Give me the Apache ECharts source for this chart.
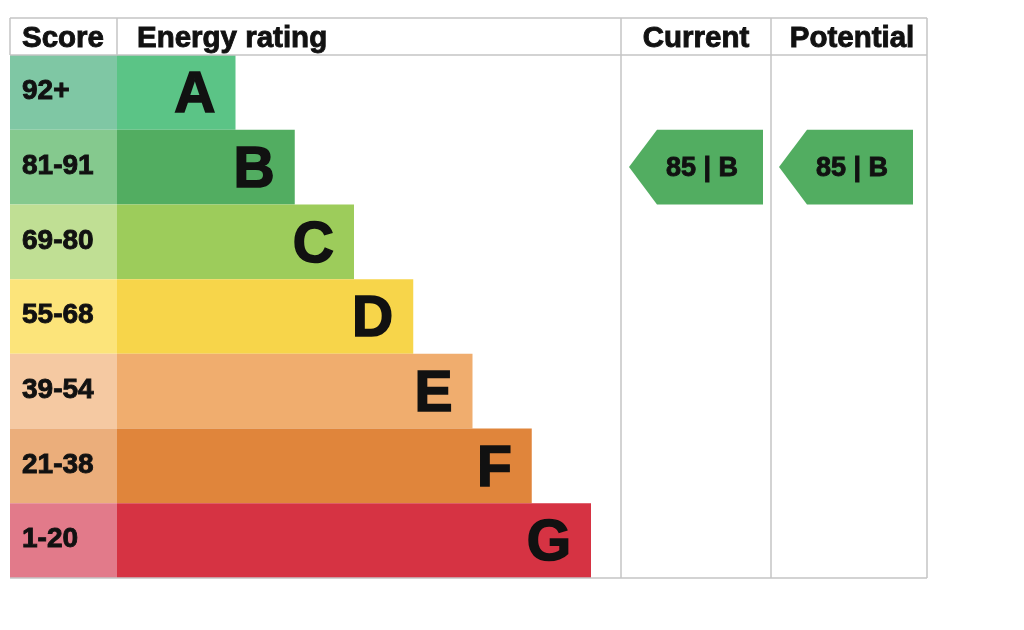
<!DOCTYPE html>
<html>
<head>
<meta charset="utf-8">
<script src="https://cdn.jsdelivr.net/npm/echarts@6/dist/echarts.min.js"></script>
<style>
html,body{margin:0;padding:0;background:#fff;}
#chart{width:1024px;height:630px;}
</style>
</head>
<body>
<div id="chart"></div>
<script>
// ---- data ----
const ratings = ['A', 'B', 'C', 'D', 'E', 'F', 'G'];
const scoreBands = ['92+', '81-91', '69-80', '55-68', '39-54', '21-38', '1-20'];
const bandMins = [92, 81, 69, 55, 39, 21, 1];
const barLengths = [2, 3, 4, 5, 6, 7, 8];
const barColors = ['#5bc486', '#52ad61', '#9dcc5b', '#f7d54a', '#f0ad6e', '#e0853b', '#d63343'];
const scoreColors = ['#7fc7a4', '#85c98e', '#c0df94', '#fce47a', '#f5c9a2', '#ebae7b', '#e27a8a'];
const headers = ['Score', 'Energy rating', 'Current', 'Potential'];
const currentScore = [85];
const potentialScore = [85];

function bandIndex(s) {
  for (let i = 0; i < bandMins.length; i++) if (s >= bandMins[i]) return i;
  return bandMins.length - 1;
}

const FONT = '"Liberation Sans", Arial, Helvetica, sans-serif';
const INK = '#111';
const chart = echarts.init(document.getElementById('chart'), null, {renderer: 'canvas'});

const T = 18, HB = 55, B = 578, L = 10, R = 927;
const cols = [10, 117, 621, 771, 927];
const gridTop = HB, gridH = B - HB;

function catAxis(i) {
  return {type: 'category', gridIndex: i, data: ratings, inverse: true, show: false};
}

function arrowRender(params, api) {
  const row = api.value(1);
  const cy = api.coord([0, row])[1];
  const h = api.size([0, 1])[1];
  const cs = params.coordSys;
  const tip = cs.x + 8;
  const notch = 28, w = 134;
  const top = cy - h / 2, bot = cy + h / 2;
  const s = api.value(2);
  return {
    type: 'group',
    children: [
      {type: 'polygon', shape: {points: [[tip, cy], [tip + notch, top], [tip + w, top], [tip + w, bot], [tip + notch, bot]]},
        style: {fill: barColors[row]}},
      {type: 'text', x: tip + 73, y: cy + 1, style: {text: s + ' | ' + ratings[row], fill: INK, font: 'bold 27px ' + FONT,
        align: 'center', verticalAlign: 'middle', stroke: INK, lineWidth: 0.9}}
    ]
  };
}

const lineStyle = {stroke: '#c4c4c4', lineWidth: 1.5};
function headText(x, txt, align) {
  return {type: 'text', x: x, y: 39, style: {text: txt, fill: INK, font: 'bold 29.5px ' + FONT, align: align,
    verticalAlign: 'middle', stroke: INK, lineWidth: 0.9}};
}
const graphics = [
  {type: 'line', shape: {x1: L, y1: T, x2: R, y2: T}, style: lineStyle, z: 10},
  {type: 'line', shape: {x1: L, y1: HB, x2: R, y2: HB}, style: lineStyle, z: 10},
  {type: 'line', shape: {x1: L, y1: B, x2: R, y2: B}, style: lineStyle, z: 10},
  {type: 'line', shape: {x1: L, y1: T, x2: L, y2: HB}, style: lineStyle, z: 10},
  {type: 'line', shape: {x1: cols[1], y1: T, x2: cols[1], y2: HB}, style: lineStyle, z: 10},
  {type: 'line', shape: {x1: cols[2], y1: T, x2: cols[2], y2: B}, style: lineStyle, z: 10},
  {type: 'line', shape: {x1: cols[3], y1: T, x2: cols[3], y2: B}, style: lineStyle, z: 10},
  {type: 'line', shape: {x1: R, y1: T, x2: R, y2: B}, style: lineStyle, z: 10},
  headText(22, headers[0], 'left'),
  headText(137, headers[1], 'left'),
  headText((cols[2] + cols[3]) / 2, headers[2], 'center'),
  headText((cols[3] + cols[4]) / 2 + 3, headers[3], 'center')
];

chart.setOption({
  animation: false,
  backgroundColor: '#fff',
  grid: [
    {left: cols[0], top: gridTop, width: cols[1] - cols[0], height: gridH},
    {left: cols[1], top: gridTop, width: 474, height: gridH},
    {left: cols[2], top: gridTop, width: cols[3] - cols[2], height: gridH},
    {left: cols[3], top: gridTop, width: cols[4] - cols[3], height: gridH}
  ],
  xAxis: [
    {type: 'value', gridIndex: 0, min: 0, max: 1, show: false},
    {type: 'value', gridIndex: 1, min: 0, max: 8, show: false},
    {type: 'value', gridIndex: 2, min: 0, max: 1, show: false},
    {type: 'value', gridIndex: 3, min: 0, max: 1, show: false}
  ],
  yAxis: [catAxis(0), catAxis(1), catAxis(2), catAxis(3)],
  series: [
    {
      type: 'bar', xAxisIndex: 0, yAxisIndex: 0, barWidth: '100%',
      data: scoreBands.map((t, i) => ({value: 1, itemStyle: {color: scoreColors[i]}})),
      label: {show: true, position: 'insideLeft', distance: 12, offset: [0, -1], formatter: p => scoreBands[p.dataIndex],
        color: INK, fontFamily: FONT, fontWeight: 'bold', fontSize: 28, textBorderColor: INK, textBorderWidth: 0.9},
      silent: true
    },
    {
      type: 'bar', xAxisIndex: 1, yAxisIndex: 1, barWidth: '100%',
      data: barLengths.map((v, i) => ({value: v, itemStyle: {color: barColors[i]}})),
      label: {show: true, position: 'insideRight', distance: 20, offset: [0, 4], formatter: p => ratings[p.dataIndex],
        color: INK, fontFamily: FONT, fontWeight: 'bold', fontSize: 57, textBorderColor: INK, textBorderWidth: 1.6},
      silent: true
    },
    {
      type: 'custom', xAxisIndex: 2, yAxisIndex: 2, renderItem: arrowRender,
      data: currentScore.map(s => [0, bandIndex(s), s]), silent: true
    },
    {
      type: 'custom', xAxisIndex: 3, yAxisIndex: 3, renderItem: arrowRender,
      data: potentialScore.map(s => [0, bandIndex(s), s]), silent: true
    }
  ],
  graphic: graphics
});
</script>
</body>
</html>
